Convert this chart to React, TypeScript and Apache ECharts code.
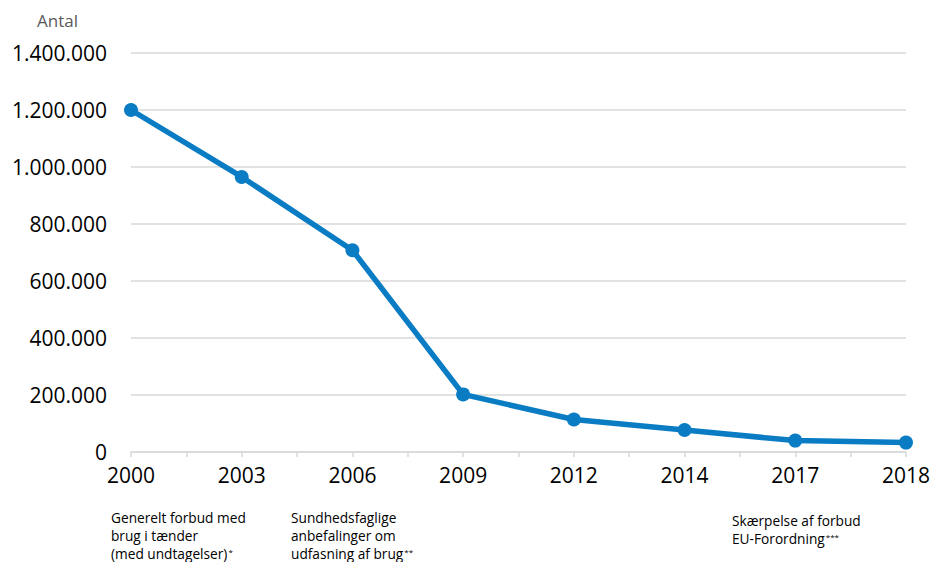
import React, { useEffect, useRef } from "react";
import * as echarts from "echarts";

const years = ["2000", "2003", "2006", "2009", "2012", "2014", "2017", "2018"];
const counts = [1200000, 965000, 708000, 202000, 114000, 77000, 40000, 33000];
const yTicks = [0, 200000, 400000, 600000, 800000, 1000000, 1200000, 1400000];
const notes = [
  { lines: ["Generelt forbud med", "brug i tænder", "(med undtagelser)"], mark: "*" },
  { lines: ["Sundhedsfaglige", "anbefalinger om", "udfasning af brug"], mark: "**" },
  { lines: ["Skærpelse af forbud", "EU-Forordning"], mark: "***" },
];
const yTitle = "Antal";

const fmt = (v: number) => String(v).replace(/\B(?=(\d{3})+(?!\d))/g, ".");

export default function App() {
  const ref = useRef<HTMLDivElement>(null);
  useEffect(() => {
    if (!ref.current) return;
    const chart = echarts.init(ref.current, null, { renderer: "svg" });
    const font = "'Open Sans', 'Liberation Sans', sans-serif";
    const notePos = [
      [111, 510],
      [291, 510],
      [732, 513],
    ];
    const noteGraphics = notes.map((n, i) => {
      const text = n.lines
        .map((l, j) => (j === n.lines.length - 1 ? `{t|${l}}{s|${n.mark}}` : `{t|${l}}`))
        .join("\n");
      return {
        type: "text",
        left: notePos[i][0],
        top: notePos[i][1],
        style: {
          text,
          fill: "#000",
          font: `13.7px ${font}`,
          rich: {
            t: { fontSize: 13.7, lineHeight: 18, fontFamily: font, fill: "#000" },
            s: { fontSize: 8, lineHeight: 10, fontFamily: font, verticalAlign: "top", fill: "#000", padding: [3, 0, 0, 1] },
          },
        },
      };
    });
    chart.setOption({
      animation: false,
      textStyle: { fontFamily: font },
      grid: { left: 131, right: 25, top: 53, bottom: 110 },
      xAxis: {
        type: "value",
        min: 0,
        max: years.length - 1,
        interval: 1,
        axisLine: { show: true, lineStyle: { color: "#d9d9d9", width: 1.5 } },
        axisTick: { show: true, length: 5, lineStyle: { color: "#d9d9d9", width: 1.5 } },
        minorTick: { show: true, splitNumber: 2, length: 5, lineStyle: { color: "#d9d9d9", width: 1.5 } },
        splitLine: { show: false },
        minorSplitLine: { show: false },
        axisLabel: {
          margin: 12,
          fontSize: 21,
          color: "#000",
          fontFamily: font,
          formatter: (v: number) => years[Math.round(v)] ?? "",
        },
      },
      yAxis: {
        type: "value",
        min: yTicks[0],
        max: yTicks[yTicks.length - 1],
        interval: yTicks[1] - yTicks[0],
        axisLine: { show: false },
        axisTick: { show: false },
        splitLine: { lineStyle: { color: "#d9d9d9", width: 1.5 } },
        axisLabel: {
          margin: 24,
          fontSize: 21,
          color: "#000",
          fontFamily: font,
          formatter: (v: number) => fmt(v),
        },
      },
      graphic: [
        {
          type: "text",
          left: 37,
          top: 12,
          style: { text: yTitle, font: `17px ${font}`, fill: "#595959" },
        },
        ...noteGraphics,
      ],
      series: [
        {
          type: "line",
          data: counts.map((c, i) => [i, c]),
          lineStyle: { color: "#0a7cc4", width: 5.5 },
          itemStyle: { color: "#0a7cc4" },
          symbol: "circle",
          symbolSize: 14,
          showSymbol: true,
        },
      ],
    });
    return () => chart.dispose();
  }, []);
  return (
    <div
      ref={ref}
      style={{ position: "fixed", left: 0, top: 0, width: 933, height: 562, background: "#fff" }}
    />
  );
}
